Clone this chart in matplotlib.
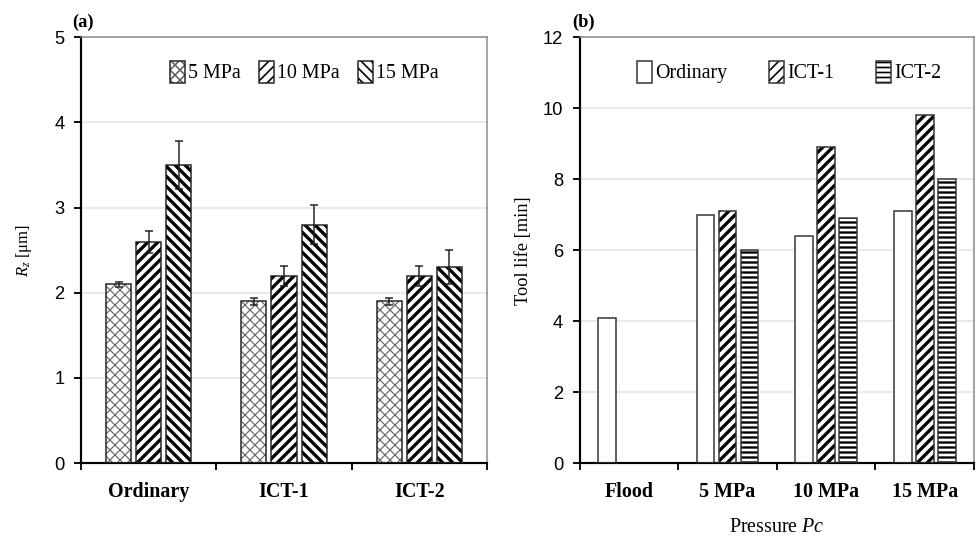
import numpy as np
import matplotlib
matplotlib.use('Agg')
import matplotlib.pyplot as plt
from matplotlib.ticker import FixedLocator, NullFormatter
from matplotlib.legend_handler import HandlerTuple

# ── data ──
groups_a = ['Ordinary', 'ICT-1', 'ICT-2']
rz_5 = [2.1, 1.9, 1.9]
rz_10 = [2.6, 2.2, 2.2]
rz_15 = [3.5, 2.8, 2.3]
err_5 = [0.03, 0.04, 0.04]
err_10 = [0.13, 0.12, 0.12]
err_15 = [0.28, 0.23, 0.20]
labels_a = ['5 MPa', '10 MPa', '15 MPa']

groups_b = ['Flood', '5 MPa', '10 MPa', '15 MPa']
life_ord = [4.1, 7.0, 6.4, 7.1]
life_ict1 = [np.nan, 7.1, 8.9, 9.8]
life_ict2 = [np.nan, 6.0, 6.9, 8.0]
labels_b = ['Ordinary', 'ICT-1', 'ICT-2']

DPI = 120
SERIF = 'Liberation Serif'
SANS = 'Liberation Sans'
plt.rcParams['font.family'] = [SERIF, 'DejaVu Serif']
plt.rcParams['mathtext.fontset'] = 'custom'
plt.rcParams['mathtext.it'] = 'Liberation Serif:italic'
plt.rcParams['mathtext.rm'] = 'Liberation Serif'


def hatched_bars(ax, x, h, w, hatch, hcolor, hlw, face='white', edge='#222'):
    """hatch layer in its own colour, then a dark outline on top"""
    with plt.rc_context({'hatch.linewidth': hlw, 'hatch.color': hcolor}):
        fill = ax.bar(x, h, w, color=face, edgecolor=hcolor, hatch=hatch,
                      lw=0, zorder=2)
    for b in fill:
        if hasattr(b, 'set_hatch_linewidth'):
            b.set_hatch_linewidth(hlw)
    outline = ax.bar(x, h, w, fill=False, edgecolor=edge, lw=0.9, zorder=3)
    return fill, outline


def style_axes(ax, n, ymax, ystep):
    ax.set_xlim(-0.5, n - 0.5)
    ax.set_ylim(0, ymax)
    ax.set_yticks(np.arange(0, ymax + 0.01, ystep))
    ax.xaxis.set_major_locator(FixedLocator(np.arange(-0.5, n, 1.0)))
    ax.xaxis.set_major_formatter(NullFormatter())
    ax.xaxis.set_minor_locator(FixedLocator(np.arange(n)))
    ax.tick_params(axis='x', which='major', length=4, width=1.1, direction='out')
    ax.tick_params(axis='x', which='minor', length=0, pad=11.5, labelsize=12)
    ax.tick_params(axis='y', length=4, width=1.1, pad=6)
    for lab in ax.get_yticklabels():
        lab.set_fontfamily(SANS)
        lab.set_fontsize(11)
    ax.grid(axis='y', color='#e4e4e4', lw=0.9, zorder=0)
    ax.set_axisbelow(True)
    for s in ['left', 'bottom']:
        ax.spines[s].set_color('black')
        ax.spines[s].set_linewidth(1.3)
    for s in ['top', 'right']:
        ax.spines[s].set_color('#888')
        ax.spines[s].set_linewidth(0.9)


leg_kw = dict(loc='upper left', ncol=3, frameon=False, fontsize=12,
              handlelength=0.75, handleheight=1.3, handletextpad=0.15,
              borderpad=0, borderaxespad=0,
              handler_map={tuple: HandlerTuple(ndivide=1)})

fig = plt.figure(figsize=(976 / DPI, 541 / DPI), dpi=DPI)
ax1 = fig.add_axes([0.083, 0.144, 0.416, 0.787])
ax2 = fig.add_axes([0.594, 0.144, 0.404, 0.787])

# ── (a) Rz ──
xa = np.arange(len(groups_a))
wa, da = 0.185, 0.222
series_a = [(rz_5, err_5, 'xxxx', '#666', 0.7),
            (rz_10, err_10, '////', 'black', 2.0),
            (rz_15, err_15, '\\\\\\\\', 'black', 2.0)]
handles = []
for k, (vals, errs, hatch, hc, hlw) in enumerate(series_a):
    xs = xa + (k - 1) * da
    fill, outline = hatched_bars(ax1, xs, vals, wa, hatch, hc, hlw)
    ax1.errorbar(xs, vals, yerr=errs, fmt='none', ecolor='#222',
                 elinewidth=0.9, capsize=2.5, capthick=0.9, zorder=4)
    handles.append((fill.patches[0], outline.patches[0]))

style_axes(ax1, len(groups_a), 5, 1)
ax1.set_xticklabels(groups_a, minor=True, fontweight='bold')
ax1.set_ylabel(r'$R_z$ [μm]', fontsize=10, family=[SERIF, 'DejaVu Sans'])
ax1.yaxis.set_label_coords(-0.115, 0.5)
ax1.legend(handles, labels_a, bbox_to_anchor=(0.22, 0.945),
           columnspacing=0.9, **leg_kw)
ax1.text(-0.022, 1.035, '(a)', transform=ax1.transAxes, fontsize=11,
         fontweight='bold', ha='left', va='center')

# ── (b) tool life ──
xb = np.arange(len(groups_b))
wb, db = 0.178, 0.223
series_b = [(life_ord, '', 'white', 0),
            (life_ict1, '////', 'black', 2.0),
            (life_ict2, '----', 'black', 1.4)]
handles = []
for k, (vals, hatch, hc, hlw) in enumerate(series_b):
    xs = xb + (k - 1) * db
    fill, outline = hatched_bars(ax2, xs, vals, wb, hatch, hc, hlw,
                                 edge='#333')
    handles.append((fill.patches[0], outline.patches[0]))

style_axes(ax2, len(groups_b), 12, 2)
ax2.set_xticklabels(groups_b, minor=True, fontweight='bold')
ax2.set_ylabel('Tool life [min]', fontsize=11)
ax2.yaxis.set_label_coords(-0.122, 0.5)
ax2.set_xlabel(r'Pressure $\it{Pc}$', fontsize=12)
ax2.xaxis.set_label_coords(0.5, -0.13)
ax2.legend(handles, labels_b, bbox_to_anchor=(0.145, 0.945),
           columnspacing=2.1, **leg_kw)
ax2.text(-0.02, 1.035, '(b)', transform=ax2.transAxes, fontsize=11,
         fontweight='bold', ha='left', va='center')

fig.savefig('out.png', dpi=DPI, facecolor='white')
plt.close(fig)
